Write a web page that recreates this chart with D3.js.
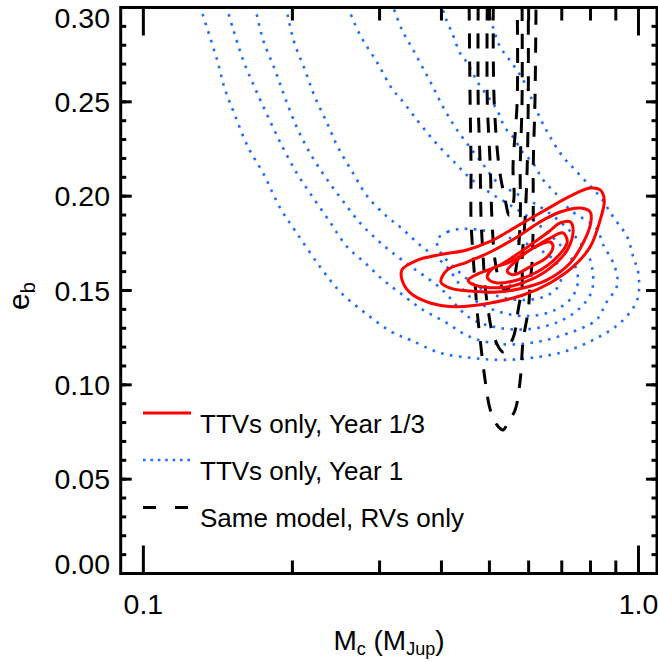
<!DOCTYPE html>
<html>
<head>
<meta charset="utf-8">
<script src="https://cdnjs.cloudflare.com/ajax/libs/d3/7.8.5/d3.min.js"></script>
<style>
  body { margin: 0; background: #fff; }
  svg text { font-family: "Liberation Sans", Arial, Helvetica, sans-serif; fill: #000; }
</style>
</head>
<body>
<div id="chart"></div>
<script>
// contour vertices, [Mc (M_Jup), e_b]
// TTVs only, Year 1/3 (red, solid)
var redC1 = [[.333,.161],[.357,.166],[.398,.169],[.450,.1715],[.502,.176],[.568,.184],[.642,.192],[.728,.200],[.799,.2043],[.837,.2033],[.853,.198],[.837,.1874],[.799,.1732],[.738,.1626],[.663,.154],[.585,.1476],[.502,.1434],[.430,.1414],[.3795,.1434],[.346,.1487],[.333,.1556]];
var redC2 = [[.399,.1545],[.411,.1609],[.451,.1651],[.502,.1704],[.569,.1784],[.633,.1864],[.695,.1916],[.7625,.1937],[.799,.1916],[.801,.1858],[.773,.1752],[.728,.1646],[.654,.1556],[.585,.1513],[.518,.1492],[.457,.1497],[.4165,.1513]];
var redC3 = [[.453,.1556],[.479,.1593],[.5255,.1635],[.585,.1715],[.654,.1805],[.695,.1858],[.728,.1864],[.738,.1821],[.718,.1715],[.663,.1619],[.604,.1556],[.543,.1519],[.486,.1519],[.457,.154]];
var redC4 = [[.495,.1577],[.506,.1614],[.5505,.1651],[.604,.1715],[.663,.1778],[.704,.1805],[.718,.1757],[.685,.1678],[.624,.1598],[.569,.1556],[.518,.154],[.497,.1561]];
var redC5 = [[.543,.1603],[.569,.1662],[.613,.1725],[.663,.1757],[.672,.1736],[.654,.1678],[.604,.1625],[.558,.1583]];

// TTVs only, Year 1 (blue, dotted)
var blueC1 = [[.130,.301],[.141,.272],[.146,.257],[.153,.2431],[.163,.2256],[.1745,.2123],[.189,.1937],[.204,.1805],[.2275,.1625],[.250,.1492],[.2805,.1381],[.3175,.128],[.346,.1238],[.398,.1169],[.464,.1142],[.5255,.1132],[.604,.1142],[.704,.1174],[.810,.1238],[.918,.1328],[.994,.145],[.999,.1593],[.976,.1678],[.949,.1784],[.889,.189],[.837,.1996],[.788,.207],[.735,.2155],[.704,.2208],[.663,.2314],[.638,.2395],[.613,.2494],[.595,.2578],[.5715,.2658],[.5455,.2732],[.5255,.2791],[.509,.2891],[.495,.301]];
var blueC2 = [[.147,.301],[.152,.2881],[.159,.2722],[.168,.2573],[.179,.2415],[.191,.2261],[.204,.2123],[.217,.2017],[.238,.1864],[.258,.1731],[.2805,.1646],[.305,.1556],[.330,.1487],[.362,.1408],[.407,.1333],[.457,.1254],[.5255,.1216],[.604,.1222],[.695,.1259],[.8215,.1344],[.860,.1434],[.906,.1529],[.893,.1635],[.849,.1741],[.8215,.1831],[.728,.1927],[.679,.2017],[.642,.2086],[.610,.2181],[.585,.2229],[.558,.2314],[.538,.2361],[.518,.2457],[.502,.251],[.4745,.26],[.451,.2706],[.436,.2759],[.422,.2854],[.407,.295],[.401,.301]];
var blueC3 = [[.168,.301],[.1745,.2828],[.1845,.2669],[.193,.2526],[.204,.2367],[.217,.2229],[.233,.2102],[.252,.198],[.274,.1858],[.297,.1768],[.319,.1699],[.3505,.1619],[.398,.1513],[.457,.1354],[.5255,.1301],[.604,.1296],[.688,.1333],[.7625,.1408],[.806,.1503],[.799,.1662],[.755,.1768],[.695,.1864],[.633,.1943],[.5635,.2017],[.518,.2075],[.483,.2176],[.453,.2271],[.426,.2367],[.403,.2473],[.383,.2589],[.366,.2685],[.349,.2785],[.333,.2881],[.319,.301]];
var blueC4 = [[.194,.301],[.201,.2828],[.212,.2669],[.222,.2526],[.235,.2388],[.247,.2261],[.265,.2123],[.284,.1996],[.311,.189],[.330,.1837],[.362,.1741],[.407,.1635],[.457,.1466],[.5255,.1386],[.604,.1365],[.679,.1397],[.735,.1466],[.755,.1556],[.735,.1662],[.679,.1768],[.618,.1864],[.5505,.1953],[.502,.2017],[.457,.2096],[.426,.2176],[.385,.2298],[.3505,.2431],[.330,.252],[.319,.2563],[.297,.2706],[.274,.2854],[.258,.301]];
var blueC5 = [[.392,.1768],[.411,.181],[.436,.1826],[.479,.1821],[.5505,.1778],[.633,.1715],[.688,.1635],[.695,.154],[.657,.1476],[.590,.145],[.5255,.1466],[.468,.1529],[.426,.1619],[.398,.1704]];

// Same model, RVs only (black, dashed)
var blackC1 = [[.455,.301],[.457,.251],[.459,.2155],[.459,.1874],[.464,.1662],[.468,.1529],[.472,.1397],[.479,.1238],[.490,.1026],[.502,.0867],[.518,.0787],[.533,.0761],[.5455,.0803],[.5635,.0867],[.577,.1026],[.585,.1238],[.599,.1397],[.604,.1529],[.610,.1662],[.613,.1874],[.613,.2155],[.618,.251],[.621,.301]];
var blackC2 = [[.4745,.301],[.4745,.251],[.479,.2155],[.481,.1874],[.486,.1662],[.490,.1529],[.497,.1397],[.509,.1264],[.533,.1174],[.558,.1248],[.5715,.1397],[.582,.1529],[.582,.1662],[.590,.1874],[.596,.2155],[.599,.251],[.599,.301]];
var blackC3 = [[.495,.301],[.495,.251],[.502,.2155],[.506,.1874],[.513,.1662],[.5255,.154],[.538,.1503],[.556,.154],[.569,.1662],[.577,.1874],[.577,.2155],[.582,.251],[.582,.301]];
var blackC4 = [[.509,.301],[.511,.251],[.523,.2155],[.538,.198],[.548,.190],[.560,.198],[.558,.2155],[.569,.251],[.569,.301]];

var redContours = [redC1, redC2, redC3, redC4, redC5];
var blueContours = [blueC1, blueC2, blueC3, blueC4, blueC5];
var blueClosed = [false, false, false, false, true];
var blackContours = [blackC1, blackC2, blackC3, blackC4];

// axes
var xMajor = [0.1, 1.0];
var xMinor = [0.2, 0.3, 0.4, 0.5, 0.6, 0.7, 0.8, 0.9];
var xLabels = ["0.1", "1.0"];
var yMajor = [0, 0.05, 0.10, 0.15, 0.20, 0.25, 0.30];
var yMinor = d3.range(0, 31).map(function(i){ return i / 100; });
var yLabels = ["0.00", "0.05", "0.10", "0.15", "0.20", "0.25", "0.30"];

var legendLabels = ["TTVs only, Year 1/3", "TTVs only, Year 1", "Same model, RVs only"];

var width = 658, height = 662;
var pLeft = 120.7, pRight = 657, pTop = 7.5, pBottom = 573.5;

var x = d3.scaleLog().domain([0.09, 1.09]).range([pLeft, pRight]);
var y = d3.scaleLinear().domain([0, 0.30]).range([pBottom, pTop]);

var svg = d3.select("#chart").append("svg")
    .attr("width", width)
    .attr("height", height);

svg.append("defs").append("clipPath").attr("id", "plotclip")
   .append("rect")
   .attr("x", pLeft).attr("y", pTop)
   .attr("width", pRight - pLeft).attr("height", pBottom - pTop);

var plot = svg.append("g").attr("clip-path", "url(#plotclip)");

var lineOpen = d3.line()
    .x(function(d){ return x(d[0]); })
    .y(function(d){ return y(d[1]); })
    .curve(d3.curveCatmullRom.alpha(0.5));
var lineClosed = d3.line()
    .x(function(d){ return x(d[0]); })
    .y(function(d){ return y(d[1]); })
    .curve(d3.curveCatmullRomClosed.alpha(0.5));

//blue dotted contours
plot.selectAll(".blue").data(blueContours).enter().append("path")
    .attr("class", "blue")
    .attr("d", function(d, i){ return blueClosed[i] ? lineClosed(d) : lineOpen(d); })
    .attr("fill", "none")
    .attr("stroke", "#1f6bff")
    .attr("stroke-width", 2.6)
    .attr("stroke-dasharray", "2.6,6.4");

//black dashed contours
plot.selectAll(".black").data(blackContours).enter().append("path")
    .attr("class", "black")
    .attr("d", lineOpen)
    .attr("fill", "none")
    .attr("stroke", "#000")
    .attr("stroke-width", 3)
    .attr("stroke-dasharray", "15,13");

//red solid contours
plot.selectAll(".red").data(redContours).enter().append("path")
    .attr("class", "red")
    .attr("d", lineClosed)
    .attr("fill", "none")
    .attr("stroke", "#ff0000")
    .attr("stroke-width", 3);

// frame
var axes = svg.append("g").attr("stroke", "#000").attr("stroke-width", 3);
axes.append("rect")
    .attr("x", pLeft).attr("y", pTop)
    .attr("width", pRight - pLeft).attr("height", pBottom - pTop)
    .attr("fill", "none");

function tickLines(vals, len, horizontal) {
  vals.forEach(function(v){
    if (horizontal) {
      var px = x(v);
      axes.append("line").attr("x1", px).attr("x2", px).attr("y1", pBottom).attr("y2", pBottom - len);
      axes.append("line").attr("x1", px).attr("x2", px).attr("y1", pTop).attr("y2", pTop + len);
    } else {
      var py = y(v);
      axes.append("line").attr("x1", pLeft).attr("x2", pLeft + len).attr("y1", py).attr("y2", py);
      axes.append("line").attr("x1", pRight).attr("x2", pRight - len).attr("y1", py).attr("y2", py);
    }
  });
}
tickLines(xMajor, 28, true);
tickLines(xMinor, 13, true);
tickLines(yMinor, 5.5, false);
tickLines(yMajor, 11, false);

// tick labels
svg.selectAll(".xlab").data(xMajor).enter().append("text")
    .attr("class", "xlab")
    .attr("x", function(d){ return x(d); })
    .attr("y", 613.5)
    .attr("text-anchor", "middle")
    .style("font-size", "28.5px")
    .text(function(d, i){ return xLabels[i]; });

svg.selectAll(".ylab").data(yMajor).enter().append("text")
    .attr("class", "ylab")
    .attr("x", 110)
    .attr("y", function(d, i){
      var py = y(d) + 10.2;
      return Math.min(Math.max(py, 27.5), pBottom);
    })
    .attr("text-anchor", "end")
    .style("font-size", "28.5px")
    .text(function(d, i){ return yLabels[i]; });

// axis titles
var xt = svg.append("text")
    .attr("x", 389).attr("y", 650)
    .attr("text-anchor", "middle")
    .style("font-size", "28px");
xt.append("tspan").text("M");
xt.append("tspan").attr("dy", 5).style("font-size", "18px").text("c");
xt.append("tspan").attr("dy", -5).text(" (M");
xt.append("tspan").attr("dy", 5).style("font-size", "18px").text("Jup");
xt.append("tspan").attr("dy", -5).text(")");

var yt = svg.append("text")
    .attr("transform", "translate(29,296) rotate(-90)")
    .attr("text-anchor", "middle")
    .style("font-size", "30px");
yt.append("tspan").text("e");
yt.append("tspan").attr("dy", 6).style("font-size", "20px").text("b");

// legend
var legendY = [413, 460, 507.5];
var leg = svg.append("g");
leg.append("line").attr("x1", 143).attr("x2", 191).attr("y1", legendY[0]).attr("y2", legendY[0])
   .attr("stroke", "#ff0000").attr("stroke-width", 3);
leg.append("line").attr("x1", 143).attr("x2", 191).attr("y1", legendY[1]).attr("y2", legendY[1])
   .attr("stroke", "#1f6bff").attr("stroke-width", 2.6).attr("stroke-dasharray", "2.6,4.8");
leg.append("line").attr("x1", 143).attr("x2", 190).attr("y1", legendY[2]).attr("y2", legendY[2])
   .attr("stroke", "#000").attr("stroke-width", 3).attr("stroke-dasharray", "13,19");
leg.selectAll("text").data(legendLabels).enter().append("text")
   .attr("x", 200)
   .attr("y", function(d, i){ return legendY[i] + 19.7; })
   .style("font-size", "26px")
   .text(function(d){ return d; });
</script>
</body>
</html>
